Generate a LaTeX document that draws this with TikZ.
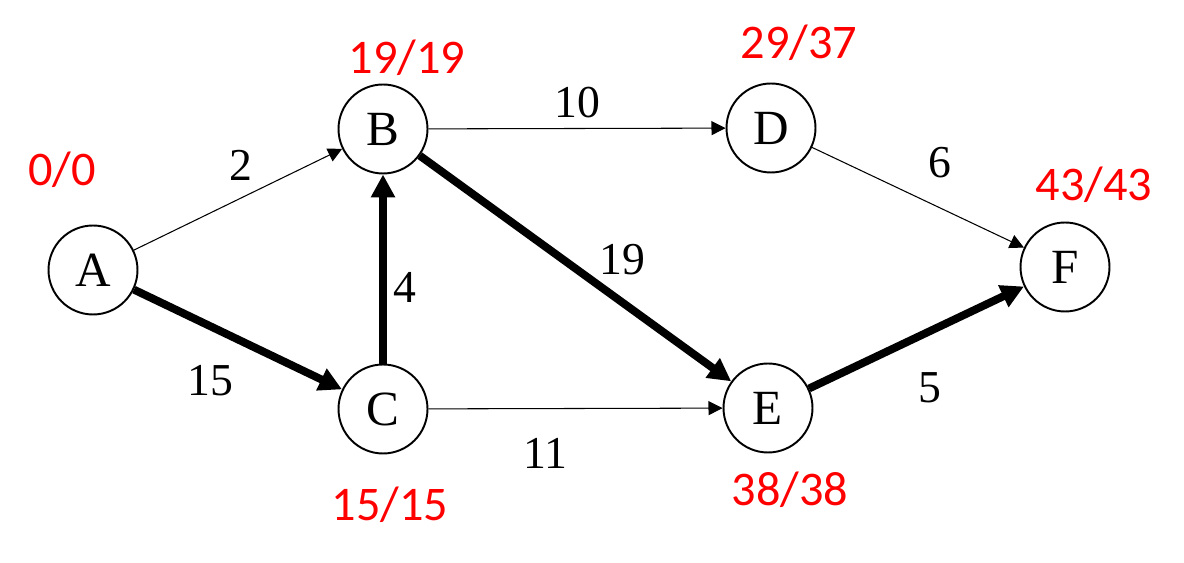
\documentclass[tikz,border=0pt]{standalone}
\usepackage{fontspec}
\setmainfont{Liberation Serif}
\newfontfamily\labelfont{Carlito}
\usetikzlibrary{arrows.meta}

\begin{document}
\begin{tikzpicture}[x=0.02cm, y=-0.02cm,
  vertex/.style={draw, circle, line width=1.1pt, minimum size=1.78cm, inner sep=0pt, font=\fontsize{28}{28}\selectfont},
  thin/.style={line width=0.6pt, -{Triangle[length=8pt, width=8pt]}},
  heavy/.style={line width=4.5pt, -{Triangle[length=13pt, width=13pt]}},
  weight/.style={font=\fontsize{26}{26}\selectfont},
  dist/.style={text=red, font=\labelfont\fontsize{27.5}{27.5}\selectfont}]
\useasboundingbox (0,0) rectangle (1184,563);

% vertices
\node[vertex] (A) at (93,270) {A};
\node[vertex] (B) at (383,129) {B};
\node[vertex] (C) at (383,409) {C};
\node[vertex] (D) at (771,128) {D};
\node[vertex] (E) at (768,408) {E};
\node[vertex] (F) at (1065,267) {F};

% edges
\draw[thin] (A) -- (B);
\draw[heavy] (A) -- (C);
\draw[heavy] (C) -- (B);
\draw[thin] (B) -- (D);
\draw[heavy] (B) -- (E);
\draw[thin] (C) -- (E);
\draw[thin] (D) -- (F);
\draw[heavy] (E) -- (F);

% weights
\node[weight] (wab) at (241,165) {2};
\node[weight] (wac) at (210,381) {15};
\node[weight] (wcb) at (405,287) {4};
\node[weight] (wbd) at (577,103) {10};
\node[weight] (wbe) at (622,260) {19};
\node[weight] (wce) at (545,453) {11};
\node[weight] (wdf) at (940,163) {6};
\node[weight] (wef) at (930,388) {5};

% distance labels
\node[dist] (la) at (62,170) {0/0};
\node[dist] (lb) at (407,58) {19/19};
\node[dist] (lc) at (390,505) {15/15};
\node[dist] (ld) at (799,43) {29/37};
\node[dist] (le) at (790,490) {38/38};
\node[dist] (lf) at (1094,185) {43/43};
\end{tikzpicture}
\end{document}
